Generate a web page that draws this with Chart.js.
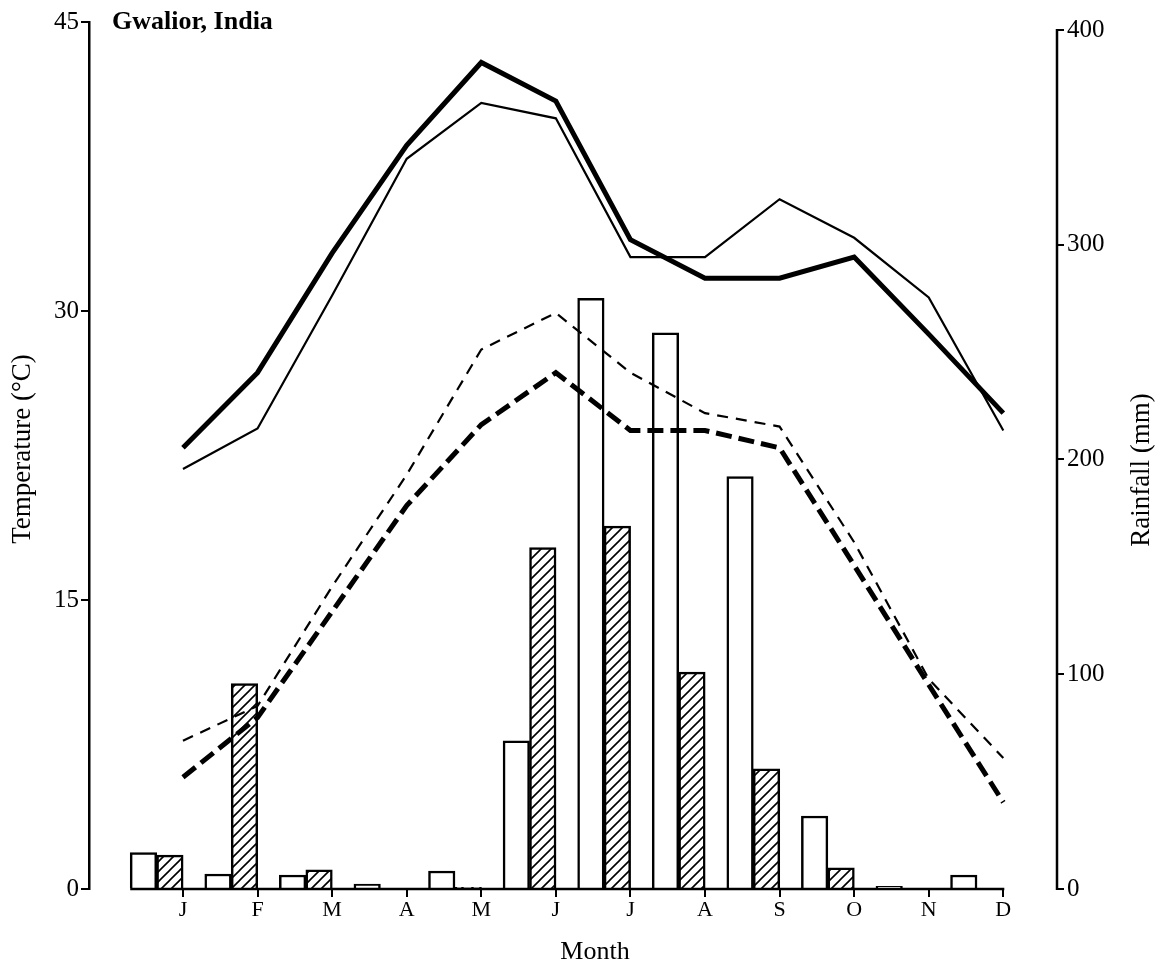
<!DOCTYPE html>
<html><head><meta charset="utf-8">
<script src="https://cdn.jsdelivr.net/npm/chart.js@4.4.0/dist/chart.umd.min.js"></script>
<style>html,body{margin:0;padding:0;background:#fff;overflow:hidden;}</style>
</head><body>
<canvas id="c" width="1158" height="963"></canvas>
<script>
// ---- data ----
const months = ['J','F','M','A','M','J','J','A','S','O','N','D'];
const tempMaxThick = [22.9, 26.8, 33.0, 38.6, 42.9, 40.9, 33.7, 31.7, 31.7, 32.8, 28.8, 24.7];
const tempMaxThin  = [21.8, 23.9, 30.8, 37.9, 40.8, 40.0, 32.8, 32.8, 35.8, 33.8, 30.7, 23.8];
const tempMinThick = [5.8, 8.9, 14.4, 19.9, 24.1, 26.8, 23.8, 23.8, 22.9, 16.8, 10.6, 4.5];
const tempMinThin  = [7.7, 9.5, 15.7, 21.5, 28.0, 29.9, 26.8, 24.7, 24.0, 18.0, 10.9, 6.8];
const rainOpen     = [17, 7, 6.5, 2.3, 8.4, 69, 275, 259, 192, 34, 1.2, 6.5];
const rainHatched  = [15.8, 95.6, 8.9, 0, 0.8, 159, 169, 101, 56, 9.8, 0, 0];
const tempTicks = [0, 15, 30, 45];
const rainTicks = [0, 100, 200, 300, 400];

// ---- layout constants ----
const OPEN_OFFSET = -0.53, HATCH_OFFSET = -0.175, BAR_W = 26.5;
const SERIF = '"Liberation Serif", "Times New Roman", serif';

function hatchPattern() {
  const s = 10, c = document.createElement('canvas');
  c.width = s; c.height = s;
  const g = c.getContext('2d');
  g.fillStyle = '#fff'; g.fillRect(0, 0, s, s);
  g.strokeStyle = '#000'; g.lineWidth = 1.6;
  g.beginPath();
  g.moveTo(-2, s + 2); g.lineTo(s + 2, -2);
  g.moveTo(-2, 2); g.lineTo(2, -2);
  g.moveTo(s - 2, s + 2); g.lineTo(s + 2, s - 2);
  g.stroke();
  return g.createPattern(c, 'repeat');
}

const pts = (arr, off) => arr.map((v, i) => ({ x: i + 1 + off, y: v }));

const decor = {
  id: 'decor',
  afterDraw(chart) {
    const ctx = chart.ctx, x = chart.scales.x, y2 = chart.scales.y2;
    const ca = chart.chartArea;
    ctx.save();
    ctx.strokeStyle = '#000';
    ctx.lineWidth = 2.5;
    // x axis line (from first bar to December tick)
    ctx.beginPath();
    ctx.moveTo(x.getPixelForValue(1 + OPEN_OFFSET) - BAR_W / 2, ca.bottom);
    ctx.lineTo(x.getPixelForValue(12) + 1, ca.bottom);
    ctx.stroke();
    // right axis line 0..400
    ctx.beginPath();
    ctx.moveTo(ca.right, y2.getPixelForValue(0) + 1);
    ctx.lineTo(ca.right, y2.getPixelForValue(400) - 1);
    ctx.stroke();
    // texts
    ctx.fillStyle = '#000';
    ctx.textBaseline = 'alphabetic';
    ctx.font = 'bold 26px ' + SERIF;
    ctx.textAlign = 'left';
    ctx.fillText('Gwalior, India', 112, 29);
    ctx.font = '26px ' + SERIF;
    ctx.textAlign = 'center';
    ctx.fillText('Month', 595, 959);
    ctx.save();
    ctx.translate(30, 449);
    ctx.rotate(-Math.PI / 2);
    ctx.font = '27px ' + SERIF;
    ctx.fillText('Temperature (°C)', 0, 0);
    ctx.restore();
    ctx.save();
    ctx.translate(1149, 470);
    ctx.rotate(-Math.PI / 2);
    ctx.font = '27px ' + SERIF;
    ctx.fillText('Rainfall (mm)', 0, 0);
    ctx.restore();
    ctx.restore();
  }
};

const pattern = hatchPattern();

new Chart(document.getElementById('c'), {
  data: {
    datasets: [
      { type: 'line', data: pts(tempMaxThick, 0), yAxisID: 'y', borderColor: '#000', borderWidth: 5, pointRadius: 0, tension: 0, order: 1, borderJoinStyle: 'miter' },
      { type: 'line', data: pts(tempMaxThin, 0), yAxisID: 'y', borderColor: '#000', borderWidth: 2.2, pointRadius: 0, tension: 0, order: 1, borderJoinStyle: 'miter' },
      { type: 'line', data: pts(tempMinThick, 0), yAxisID: 'y', borderColor: '#000', borderWidth: 5, borderDash: [16, 7], pointRadius: 0, tension: 0, order: 1 },
      { type: 'line', data: pts(tempMinThin, 0), yAxisID: 'y', borderColor: '#000', borderWidth: 2.2, borderDash: [11, 8], pointRadius: 0, tension: 0, order: 1 },
      { type: 'bar', data: pts(rainOpen, OPEN_OFFSET), yAxisID: 'y2', backgroundColor: '#fff', borderColor: '#000', borderWidth: 2.5, barThickness: BAR_W, grouped: false, order: 2 },
      { type: 'bar', data: pts(rainHatched, HATCH_OFFSET), yAxisID: 'y2', backgroundColor: pattern, borderColor: '#000', borderWidth: 2.5, barThickness: BAR_W, grouped: false, order: 2 }
    ]
  },
  options: {
    responsive: false,
    animation: false,
    devicePixelRatio: 1,
    layout: { padding: { top: 22, left: 0, right: 0, bottom: 0 } },
    plugins: { legend: { display: false }, tooltip: { enabled: false } },
    scales: {
      x: {
        type: 'linear', min: -0.26, max: 12.72, offset: false,
        afterBuildTicks: s => { s.ticks = months.map((m, i) => ({ value: i + 1 })); },
        afterFit: s => { s.height = 74; },
        border: { display: false },
        grid: { offset: false, drawOnChartArea: false, drawTicks: true, tickLength: 8, color: '#000', lineWidth: 2 },
        ticks: { color: '#000', padding: 0, autoSkip: false, maxRotation: 0, font: { family: SERIF, size: 22 }, callback: v => months[v - 1] }
      },
      y: {
        position: 'left', min: 0, max: 45,
        afterBuildTicks: s => { s.ticks = tempTicks.map(v => ({ value: v })); },
        afterFit: s => { s.width = 89; },
        border: { display: true, color: '#000', width: 2.5 },
        grid: { drawOnChartArea: false, tickLength: 8, color: '#000', lineWidth: 2 },
        ticks: { color: '#000', padding: 2, font: { family: SERIF, size: 25 } }
      },
      y2: {
        position: 'right', min: 0, max: 403.7,
        afterBuildTicks: s => { s.ticks = rainTicks.map(v => ({ value: v })); },
        afterFit: s => { s.width = 101; },
        border: { display: false },
        grid: { drawOnChartArea: false, tickLength: 7, color: '#000', lineWidth: 2 },
        ticks: { color: '#000', padding: 3, font: { family: SERIF, size: 25 } }
      }
    }
  },
  plugins: [decor]
});
</script>
</body></html>
